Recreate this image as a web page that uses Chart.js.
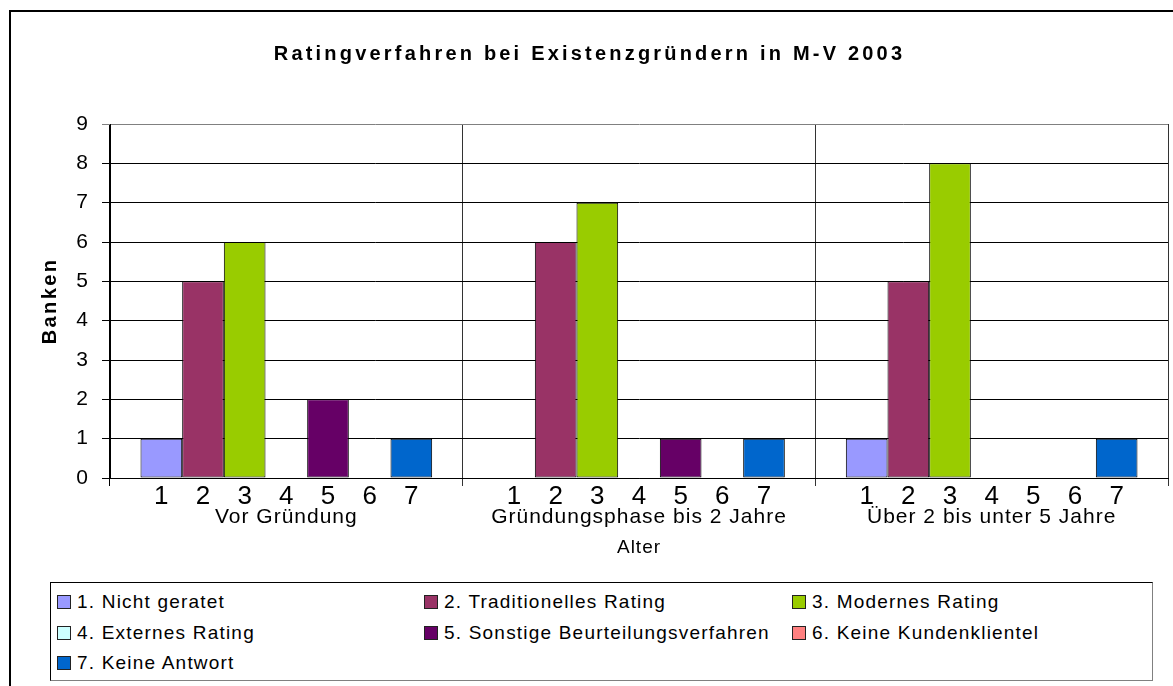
<!DOCTYPE html>
<html>
<head>
<meta charset="utf-8">
<script src="https://cdn.jsdelivr.net/npm/chart.js@4/dist/chart.umd.min.js"></script>
<style>
  body { margin: 0; background: #fff; font-family: Arial, "Liberation Sans", sans-serif; }
  #frame { position: absolute; left: 9px; top: 10px; width: 1200px; height: 700px; border-left: 2px solid #000; border-top: 2px solid #000; }
  #wrap { position: absolute; left: 0; top: 0; width: 1173px; height: 580px; }
  #legend { position: absolute; left: 50px; top: 582px; width: 1101px; height: 97px; border: 1px solid #000; border-right-color: #808080; border-bottom-color: #808080; background: #fff; }
  .item { position: absolute; height: 22px; display: flex; align-items: center; font-size: 19px; letter-spacing: 1.2px; color: #000; white-space: nowrap; }
  .sw { width: 12px; height: 12px; border: 1px solid #222; margin-right: 6px; flex: none; }
</style>
</head>
<body>
<div id="frame"></div>
<div id="wrap"><canvas id="chart" width="1173" height="580"></canvas></div>
<div id="legend"></div>

<script>
// --- Daten ---
const gruppen = ['Vor Gründung', 'Gründungsphase bis 2 Jahre', 'Über 2 bis unter 5 Jahre'];
const serienNamen = ['1. Nicht geratet', '2. Traditionelles Rating', '3. Modernes Rating',
  '4. Externes Rating', '5. Sonstige Beurteilungsverfahren', '6. Keine Kundenklientel', '7. Keine Antwort'];
const serienFarben = ['#9999FF', '#993366', '#99CC00', '#CCFFFF', '#660066', '#FF8080', '#0066CC'];
const nummern = ['1', '2', '3', '4', '5', '6', '7'];

const nichtGeratet = [1, 0, 1];
const traditionell = [5, 6, 5];
const modern = [6, 7, 8];
const extern = [0, 0, 0];
const sonstige = [2, 1, 0];
const keineKunden = [0, 0, 0];
const keineAntwort = [1, 1, 1];
const werte = [nichtGeratet, traditionell, modern, extern, sonstige, keineKunden, keineAntwort];

const yMax = 9;
const yStep = 1;

const titel = 'Ratingverfahren bei Existenzgründern in M-V 2003';
const yTitel = 'Banken';
const xTitel = 'Alter';

const FONT = 'Arial, "Liberation Sans", sans-serif';

// Nummern 1-7 unter jedem Balken, Titel und "Banken"
const textPlugin = {
  id: 'texte',
  beforeDraw(chart) {
    chart.ctx.letterSpacing = '1px';
  },
  afterDatasetsDraw(chart) {
    const ctx = chart.ctx;
    ctx.save();
    ctx.letterSpacing = '0px';
    ctx.font = '26px ' + FONT;
    ctx.fillStyle = '#000';
    ctx.textAlign = 'center';
    ctx.textBaseline = 'alphabetic';
    chart.data.datasets.forEach((ds, i) => {
      chart.getDatasetMeta(i).data.forEach(bar => {
        ctx.fillText(nummern[i], bar.x, chart.chartArea.bottom + 26);
      });
    });
    ctx.restore();
  },
  afterDraw(chart) {
    const ctx = chart.ctx;
    ctx.save();
    ctx.fillStyle = '#000';
    ctx.textAlign = 'center';
    ctx.textBaseline = 'alphabetic';
    ctx.letterSpacing = '3.2px';
    ctx.font = 'bold 20px ' + FONT;
    ctx.fillText(titel, chart.width / 2 + 3, 60);

    ctx.translate(56, (chart.chartArea.top + chart.chartArea.bottom) / 2);
    ctx.rotate(-Math.PI / 2);
    ctx.letterSpacing = '2.4px';
    ctx.font = 'bold 20px ' + FONT;
    ctx.fillText(yTitel, 0, 0);
    ctx.restore();
  }
};

const ctx = document.getElementById('chart').getContext('2d');

const ratingChart = new Chart(ctx, {
  type: 'bar',
  data: {
    labels: gruppen,
    datasets: werte.map((daten, i) => ({
      label: serienNamen[i],
      data: daten,
      backgroundColor: serienFarben[i],
      borderColor: '#000',
      borderWidth: 1,
      borderSkipped: false,
      categoryPercentage: 0.827,
      barPercentage: 1.0
    }))
  },
  options: {
    responsive: false,
    animation: false,
    devicePixelRatio: 1,
    layout: { padding: { top: 124, left: 0, right: 5, bottom: 0 } },
    plugins: {
      legend: { display: false },
      title: { display: false },
      tooltip: { enabled: false }
    },
    scales: {
      x: {
        afterFit: s => { s.height = 102; },
        grid: {
          offset: true,
          tickLength: 8,
          color: c => c.index === 0 ? '#000' : (c.index === gruppen.length ? '#808080' : '#333')
        },
        border: { color: '#000' },
        ticks: {
          color: '#000',
          font: { family: FONT, size: 21 },
          padding: 19,
          maxRotation: 0,
          autoSkip: false
        },
        title: {
          display: true,
          text: xTitel,
          color: '#000',
          font: { family: FONT, size: 19 },
          padding: { top: 0, bottom: 21 }
        }
      },
      y: {
        min: 0,
        max: yMax,
        afterFit: s => { s.width = 110; },
        grid: {
          tickLength: 8,
          color: c => c.tick && c.tick.value === yMax ? '#808080' : '#000'
        },
        border: { color: '#000' },
        ticks: {
          stepSize: yStep,
          color: '#000',
          font: { family: FONT, size: 21 },
          padding: 13
        }
      }
    }
  },
  plugins: [textPlugin]
});

// --- Legende ---
const legende = document.getElementById('legend');
const spalten = [6, 373, 741];
const zeilen = [8, 39, 69];
serienNamen.forEach((name, i) => {
  const el = document.createElement('div');
  el.className = 'item';
  el.style.left = spalten[i % 3] + 'px';
  el.style.top = zeilen[Math.floor(i / 3)] + 'px';
  el.innerHTML = `<span class="sw" style="background:${serienFarben[i]}"></span>${name}`;
  legende.appendChild(el);
});
</script>
</body>
</html>
